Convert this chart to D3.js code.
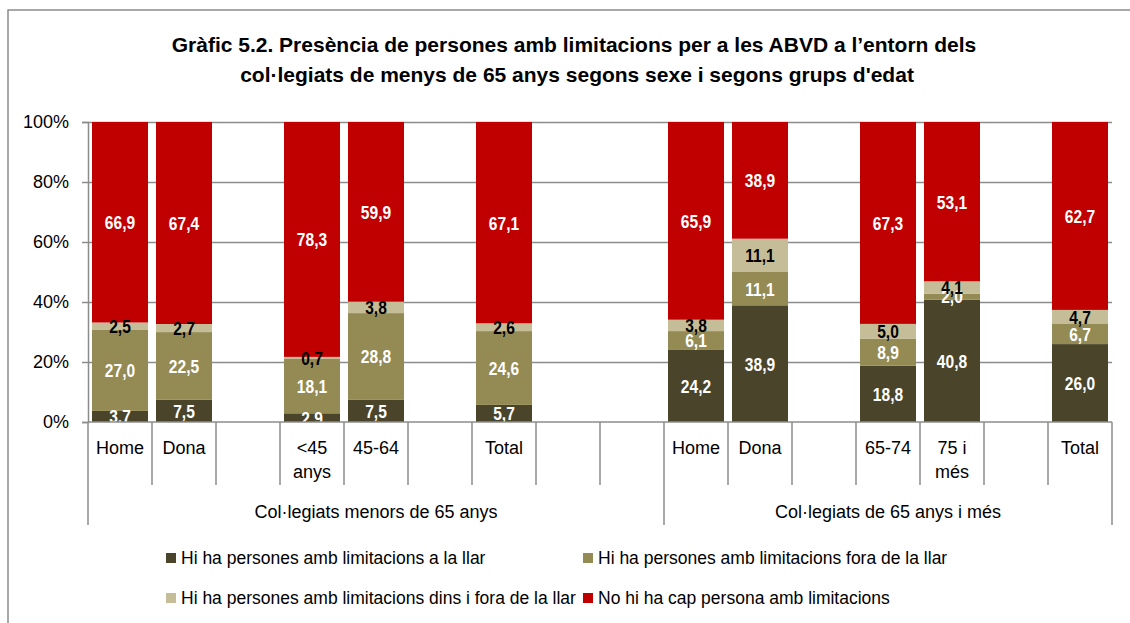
<!DOCTYPE html>
<html>
<head>
<meta charset="utf-8">
<script src="https://cdn.jsdelivr.net/npm/d3@7"></script>
<style>
  body { margin: 0; background: #fff; }
  text { font-family: "Liberation Sans Narrow", "Arial Narrow", "Liberation Sans", sans-serif; }
</style>
</head>
<body>
<svg width="1130" height="623"></svg>
<script>
// slots along the x axis, blanks included
var slotLabels = [["Home"], ["Dona"], [], ["<45", "anys"], ["45-64"], [], ["Total"], [], [],
                  ["Home"], ["Dona"], [], ["65-74"], ["75 i", "més"], [], ["Total"]];
var groups = ["Col·legiats menors de 65 anys", "Col·legiats de 65 anys i més"];
var groupStart = [0, 9, 16]; // slot index where each group begins (and end)

var seriesNames = ["Hi ha persones amb limitacions a la llar",
                   "Hi ha persones amb limitacions fora de la llar",
                   "Hi ha persones amb limitacions dins i fora de la llar",
                   "No hi ha cap persona amb limitacions"];
var aLaLlar   = [3.7, 7.5, null, 2.9, 7.5, null, 5.7, null, null, 24.2, 38.9, null, 18.8, 40.8, null, 26.0];
var foraLlar  = [27.0, 22.5, null, 18.1, 28.8, null, 24.6, null, null, 6.1, 11.1, null, 8.9, 2.0, null, 6.7];
var dinsFora  = [2.5, 2.7, null, 0.7, 3.8, null, 2.6, null, null, 3.8, 11.1, null, 5.0, 4.1, null, 4.7];
var capPersona = [66.9, 67.4, null, 78.3, 59.9, null, 67.1, null, null, 65.9, 38.9, null, 67.3, 53.1, null, 62.7];
var colors = ["#4A452A", "#948A54", "#C4BD97", "#C00000"];
var labelColors = ["#fff", "#fff", "#000", "#fff"];

var svg = d3.select("svg");
var margin = {left: 88, right: 1112, top: 122, bottom: 422};

var rows = [];
slotLabels.forEach(function(l, i) {
  if (aLaLlar[i] == null) return;
  rows.push({slot: i, 0: aLaLlar[i], 1: foraLlar[i], 2: dinsFora[i], 3: capPersona[i]});
});

var stack = d3.stack().keys([0, 1, 2, 3]).offset(d3.stackOffsetExpand);
var layers = stack(rows);

var x = d3.scaleBand().domain(d3.range(slotLabels.length))
    .range([margin.left, margin.right]).paddingInner(0).paddingOuter(0);
var y = d3.scaleLinear().domain([0, 1]).range([margin.bottom, margin.top]);
var grey = "#8c8c8c";
var fmt = d3.formatLocale({decimal: ",", thousands: "."}).format(".1f");

// outer frame
svg.append("rect").attr("x", 8).attr("y", 10).attr("width", 1140).attr("height", 640)
  .attr("fill", "none").attr("stroke", grey).attr("stroke-width", 1.5);

// title
svg.append("text").attr("x", 574).attr("y", 52).attr("text-anchor", "middle")
  .attr("font-size", 21).attr("font-weight", "bold").attr("fill", "#000")
  .text("Gràfic 5.2. Presència de persones amb limitacions per a les ABVD a l’entorn dels");
svg.append("text").attr("x", 577).attr("y", 82).attr("text-anchor", "middle")
  .attr("font-size", 21).attr("font-weight", "bold").attr("fill", "#000")
  .text("col·legiats de menys de 65 anys segons sexe i segons grups d'edat");

// grid
svg.append("g")
  .attr("transform", "translate(" + margin.left + ",0)")
  .call(d3.axisLeft(y).tickValues([0.2, 0.4, 0.6, 0.8, 1]).tickSize(-(margin.right - margin.left)).tickFormat(""))
  .call(function(g) {
    g.select(".domain").remove();
    g.selectAll("line").attr("stroke", grey).attr("stroke-width", 1.5);
  });

// y axis
svg.append("g")
  .attr("transform", "translate(" + margin.left + ",0)")
  .call(d3.axisLeft(y).tickValues([0, 0.2, 0.4, 0.6, 0.8, 1]).tickSize(6).tickPadding(13)
    .tickFormat(d3.format(".0%")))
  .call(function(g) {
    g.select(".domain").attr("stroke", grey).attr("stroke-width", 1.5);
    g.selectAll("line").attr("stroke", grey).attr("stroke-width", 1.5);
    g.selectAll("text").attr("font-size", 18).attr("fill", "#000")
      .style("font-family", "'Liberation Sans Narrow', 'Arial Narrow', 'Liberation Sans', sans-serif");
  });

// bars
var barW = x.bandwidth() * 0.875;
var layerG = svg.append("g").selectAll("g").data(layers).enter().append("g")
  .attr("fill", function(d, i) { return colors[i]; });
layerG.selectAll("rect").data(function(d) { return d; }).enter().append("rect")
  .attr("x", function(d) { return x(d.data.slot) + (x.bandwidth() - barW) / 2; })
  .attr("width", barW)
  .attr("y", function(d) { return y(d[1]); })
  .attr("height", function(d) { return y(d[0]) - y(d[1]); });

// value labels (condensed bold)
layers.forEach(function(layer, i) {
  svg.append("g").selectAll("text").data(layer).enter().append("text")
    .attr("transform", function(d) {
      return "translate(" + (x(d.data.slot) + x.bandwidth() / 2) + "," + y((d[0] + d[1]) / 2) + ") scale(0.82,1)";
    })
    .attr("dy", "0.36em")
    .attr("text-anchor", "middle")
    .attr("font-size", 19).attr("font-weight", "bold")
    .attr("fill", labelColors[i])
    .text(function(d) { return fmt(d.data[i]); });
});

// x axis line
svg.append("line").attr("x1", margin.left).attr("x2", margin.right)
  .attr("y1", margin.bottom).attr("y2", margin.bottom)
  .attr("stroke", grey).attr("stroke-width", 1.5);

// separators below axis
d3.range(slotLabels.length + 1).forEach(function(k) {
  var xx = margin.left + k * x.bandwidth();
  var outer = groupStart.indexOf(k) >= 0;
  svg.append("line").attr("x1", xx).attr("x2", xx)
    .attr("y1", margin.bottom).attr("y2", outer ? 525 : 485)
    .attr("stroke", grey).attr("stroke-width", 1.5);
});

// category labels
slotLabels.forEach(function(lines, i) {
  lines.forEach(function(t, j) {
    svg.append("text").attr("x", x(i) + x.bandwidth() / 2).attr("y", 454 + j * 24)
      .attr("text-anchor", "middle").attr("font-size", 18).attr("fill", "#000").text(t);
  });
});

// group labels
groups.forEach(function(g, i) {
  var x0 = x(groupStart[i]), x1 = margin.left + groupStart[i + 1] * x.bandwidth();
  svg.append("text").attr("x", (x0 + x1) / 2).attr("y", 518)
    .attr("text-anchor", "middle").attr("font-size", 18).attr("fill", "#000").text(g);
});

// legend
var legendPos = [[166, 558], [583, 558], [166, 598], [583, 598]];
seriesNames.forEach(function(n, i) {
  var p = legendPos[i];
  svg.append("rect").attr("x", p[0]).attr("y", p[1] - 5).attr("width", 10).attr("height", 10)
    .attr("fill", colors[i]);
  svg.append("text").attr("x", p[0] + 15).attr("y", p[1]).attr("dy", "0.36em")
    .attr("font-size", 17.5).attr("fill", "#000").text(n);
});
</script>
</body>
</html>
